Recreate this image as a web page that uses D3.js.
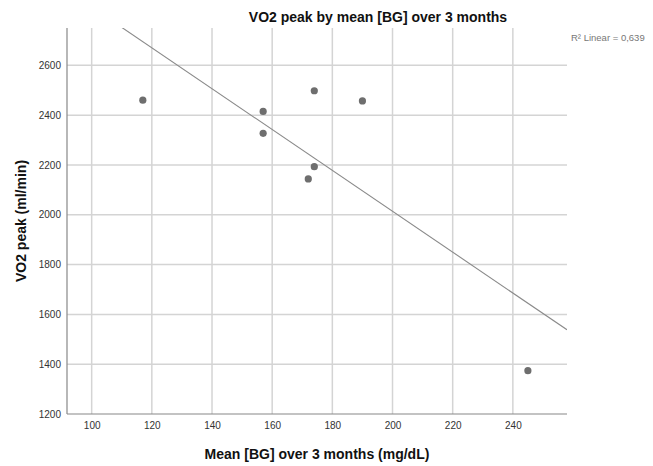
<!DOCTYPE html>
<html><head><meta charset="utf-8">
<script src="https://cdn.jsdelivr.net/npm/d3@7"></script>
<style>body{margin:0;background:#fff;} svg{display:block;font-family:Arial,"Liberation Sans",sans-serif;}</style>
</head><body>
<svg id="c" width="653" height="466"></svg>
<script>
const meanBG = [117, 157, 157, 174, 174, 172, 190, 245];
const vo2Peak = [2460, 2415, 2327, 2498, 2193, 2144, 2457, 1374];
const xTicks = [100, 120, 140, 160, 180, 200, 220, 240];
const yTicks = [1200, 1400, 1600, 1800, 2000, 2200, 2400, 2600];
const xDomain = [91.8, 258];
const yDomain = [1200, 2750];
const title = "VO2 peak by mean [BG] over 3 months";
const xLabel = "Mean [BG] over 3 months (mg/dL)";
const yLabel = "VO2 peak (ml/min)";
const r2Label = "R\u00B2 Linear = 0,639";

const svg = d3.select("#c");
const L = 67, R = 567, T = 28, B = 414;
const x = d3.scaleLinear().domain(xDomain).range([L, R]);
const y = d3.scaleLinear().domain(yDomain).range([B, T]);

// grid
svg.append("g").selectAll("line").data(xTicks).join("line")
  .attr("x1", d => x(d)).attr("x2", d => x(d)).attr("y1", T).attr("y2", B)
  .attr("stroke", "#d4d4d4").attr("stroke-width", 1.5);
svg.append("g").selectAll("line").data(yTicks.filter(d => d > yDomain[0])).join("line")
  .attr("x1", L).attr("x2", R).attr("y1", d => y(d)).attr("y2", d => y(d))
  .attr("stroke", "#d4d4d4").attr("stroke-width", 1.5);

// axes
const xAxis = svg.append("g").attr("transform", `translate(0,${B})`)
  .call(d3.axisBottom(x).tickValues(xTicks).tickFormat(d3.format("d")).tickSize(0).tickPadding(8));
const yAxis = svg.append("g").attr("transform", `translate(${L},0)`)
  .call(d3.axisLeft(y).tickValues(yTicks).tickFormat(d3.format("d")).tickSize(0).tickPadding(6));
[xAxis, yAxis].forEach(a => {
  a.select(".domain").attr("stroke", "#888").attr("stroke-width", 1.2);
  a.selectAll("text").attr("font-size", 10).attr("fill", "#333").attr("font-family", "Arial, 'Liberation Sans', sans-serif");
});
xAxis.select(".domain").attr("d", `M${L},0H${R}`);
yAxis.select(".domain").attr("d", `M0,${T}V${B}`);

// regression
const n = meanBG.length;
const mx = d3.mean(meanBG), my = d3.mean(vo2Peak);
let sxy = 0, sxx = 0;
for (let i = 0; i < n; i++) { sxy += (meanBG[i]-mx)*(vo2Peak[i]-my); sxx += (meanBG[i]-mx)**2; }
const slope = sxy / sxx, icpt = my - slope * mx;
svg.append("clipPath").attr("id", "clip").append("rect")
  .attr("x", L).attr("y", T).attr("width", R - L).attr("height", B - T);
svg.append("line").attr("clip-path", "url(#clip)")
  .attr("x1", x(xDomain[0])).attr("y1", y(icpt + slope * xDomain[0]))
  .attr("x2", x(xDomain[1])).attr("y2", y(icpt + slope * xDomain[1]))
  .attr("stroke", "#8a8a8a").attr("stroke-width", 1.1);

// points
svg.append("g").selectAll("circle").data(meanBG.map((d, i) => [d, vo2Peak[i]])).join("circle")
  .attr("cx", d => x(d[0])).attr("cy", d => y(d[1])).attr("r", 3.6)
  .attr("fill", "#6e6e6e");

// texts
svg.append("text").attr("x", 378).attr("y", 22).attr("text-anchor", "middle")
  .attr("font-size", 14).attr("font-weight", "bold").attr("fill", "#111").text(title);
svg.append("text").attr("x", 317).attr("y", 459).attr("text-anchor", "middle")
  .attr("font-size", 14).attr("font-weight", "bold").attr("fill", "#111").text(xLabel);
svg.append("text").attr("transform", "translate(26,221) rotate(-90)").attr("text-anchor", "middle")
  .attr("font-size", 14).attr("font-weight", "bold").attr("fill", "#111").text(yLabel);
svg.append("text").attr("x", 571).attr("y", 41)
  .attr("font-size", 9.5).attr("fill", "#777").text(r2Label);
</script>
</body></html>
